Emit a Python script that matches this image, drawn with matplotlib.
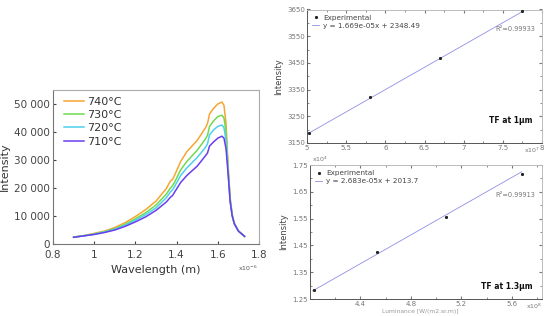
import matplotlib
matplotlib.use("Agg")
import matplotlib.pyplot as plt
from matplotlib.ticker import FixedLocator, MultipleLocator

# ---------------- data ----------------
wavelength_um = [0.90, 0.95, 1.00, 1.05, 1.10, 1.15, 1.20, 1.25, 1.30, 1.35, 1.37, 1.38, 1.39,
                 1.42, 1.45, 1.50, 1.54, 1.55, 1.56, 1.58, 1.60, 1.62, 1.63, 1.64, 1.65, 1.66,
                 1.67, 1.68, 1.70, 1.73]
i740 = [2500, 3000, 3800, 4600, 5900, 7600, 9800, 12300, 15300, 19800, 22500, 23000, 24500,
        29500, 33000, 37000, 41500, 43000, 46500, 48500, 50000, 50700, 49500, 43000, 28000,
        16500, 10500, 7500, 4700, 2800]
i730 = [2450, 2950, 3600, 4400, 5500, 7000, 9000, 11200, 13900, 17800, 20000, 20800, 22000,
        26500, 29500, 33500, 37500, 38800, 42000, 44000, 45500, 46000, 45000, 40000, 27000,
        16000, 10300, 7400, 4650, 2750]
i720 = [2430, 2920, 3500, 4250, 5250, 6700, 8500, 10500, 12900, 16500, 18600, 19300, 20500,
        24500, 27200, 30900, 34500, 35800, 39000, 40800, 42000, 42500, 41500, 37000, 26000,
        15500, 10100, 7300, 4620, 2720]
i710 = [2400, 2900, 3400, 4100, 5000, 6300, 7900, 9700, 12000, 15000, 16700, 17300, 18500,
        22000, 24500, 27800, 31500, 32500, 35000, 36500, 37800, 38500, 37800, 34000, 25000,
        15000, 10000, 7200, 4600, 2700]
series_labels = ["740°C", "730°C", "720°C", "710°C"]
series_colors = ["#F7A531", "#6EDB4E", "#4FD0EE", "#6A3DF0"]

# TF at 1 µm (x in units of 1e7)
tf1_x = [5.02, 5.80, 6.70, 7.75]
tf1_y = [3186, 3322, 3467, 3646]
tf1_fit_x = [5.0, 7.76]
tf1_fit_y = [3183, 3644]
tf1_eq = "y = 1.669e-05x + 2348.49"
tf1_r2 = "R²=0.99933"

# TF at 1.3 µm (x in units of 1e8, y in units of 1e4)
tf2_x = [4.03, 4.53, 5.08, 5.68]
tf2_y = [1.282, 1.424, 1.556, 1.715]
tf2_fit_x = [4.02, 5.68]
tf2_fit_y = [1.280, 1.725]
tf2_eq = "y = 2.683e-05x + 2013.7"
tf2_r2 = "R²=0.99913"

W, H = 552, 316
fig = plt.figure(figsize=(W / 100, H / 100), dpi=100)
plt.rcParams['font.family'] = ['DejaVu Sans']

def fx(px):
    return px / W

def fy(py):
    return 1 - py / H

# ---------------- left chart ----------------
ax = fig.add_axes([fx(53), fy(244), fx(259) - fx(53), fy(90) - fy(244)])
allseries = [i740, i730, i720, i710]
for s, lab, c in zip(allseries, series_labels, series_colors):
    ax.plot(wavelength_um, s, color=c, lw=1.1, label=lab)
ax.set_xlim(0.8, 1.8)
ax.set_ylim(0, 55000)
ax.set_xticks([0.8, 1.0, 1.2, 1.4, 1.6, 1.8])
ax.set_xticklabels(["0.8", "1", "1.2", "1.4", "1.6", "1.8"])
ax.set_yticks([0, 10000, 20000, 30000, 40000, 50000])
ax.set_yticklabels(["0", "10 000", "20 000", "30 000", "40 000", "50 000"])
ax.tick_params(direction='in', length=2.5, labelsize=7.5, colors='#444444')
ax.tick_params(axis='x', pad=4)
ax.tick_params(axis='y', pad=2)
for sp in ax.spines.values():
    sp.set_color('#aaaaaa')
    sp.set_linewidth(0.8)
ax.spines['left'].set_color('#777777')
ax.spines['bottom'].set_color('#777777')
ax.set_xlabel("Wavelength (m)", fontsize=8, color='#333333', labelpad=4)
ax.set_ylabel("Intensity", fontsize=8, color='#333333', labelpad=3)
leg = ax.legend(loc='upper left', frameon=False, fontsize=8, handlelength=1.8,
                borderaxespad=0.2, labelspacing=0.3, handletextpad=0.3,
                bbox_to_anchor=(0.02, 1.0))
for t in leg.get_texts():
    t.set_color('#333333')
fig.text(fx(238), fy(268), r"x10$^{-6}$", fontsize=4.5, color='#555555', ha='left', va='center')

# ---------------- right charts helper ----------------
def style_small(a):
    a.tick_params(direction='in', length=2, labelsize=5, colors='#777777', pad=1.5,
                  top=True, right=True, which='both')
    a.tick_params(which='minor', length=1.5)
    for sp in a.spines.values():
        sp.set_color('#bbbbbb')
        sp.set_linewidth(0.7)
    a.spines['left'].set_color('#555555')
    a.spines['bottom'].set_color('#555555')
    for lab in a.get_xticklabels() + a.get_yticklabels():
        lab.set_color('#777777')

# top right
a1 = fig.add_axes([fx(307), fy(143), fx(542) - fx(307), fy(9.5) - fy(143)])
a1.plot(tf1_fit_x, tf1_fit_y, color='#8f8fe8', lw=0.6, label=tf1_eq, zorder=2)
a1.plot(tf1_x, tf1_y, ls='none', marker='*', ms=1.8, color='#222222', label='Experimental', zorder=3)
a1.set_xlim(5, 8)
a1.set_ylim(3150, 3650)
a1.set_xticks([5, 5.5, 6, 6.5, 7, 7.5, 8])
a1.set_xticklabels(["5", "5.5", "6", "6.5", "7", "7.5", "8"])
a1.set_yticks([3150, 3250, 3350, 3450, 3550, 3650])
a1.yaxis.set_minor_locator(MultipleLocator(50))
a1.xaxis.set_minor_locator(MultipleLocator(0.25))
style_small(a1)
h, l = a1.get_legend_handles_labels()
lg1 = a1.legend(h[::-1], l[::-1], loc='upper left', frameon=False, fontsize=5.2,
                handlelength=1.0, handletextpad=0.5, borderaxespad=0.3, labelspacing=0.3)
for t in lg1.get_texts():
    t.set_color('#444444')
a1.text(0.97, 0.855, tf1_r2, transform=a1.transAxes, fontsize=4.8, color='#777777', ha='right', va='center')
a1.text(0.96, 0.165, "TF at 1µm", transform=a1.transAxes, fontsize=5.5, color='#111111',
        fontweight='bold', ha='right', va='center')
a1.set_ylabel("Intensity", fontsize=6, color='#444444', labelpad=3)
fig.text(fx(524), fy(150), r"x10$^{7}$", fontsize=4.5, color='#777777', ha='left', va='center')

# bottom right
a2 = fig.add_axes([fx(310), fy(299), fx(542) - fx(310), fy(165) - fy(299)])
a2.plot(tf2_fit_x, tf2_fit_y, color='#8f8fe8', lw=0.6, label=tf2_eq, zorder=2)
a2.plot(tf2_x, tf2_y, ls='none', marker='*', ms=1.8, color='#222222', label='Experimental', zorder=3)
a2.set_xlim(4.0, 5.84)
a2.set_ylim(1.25, 1.75)
a2.set_xticks([4.4, 4.8, 5.2, 5.6])
a2.set_xticklabels(["4.4", "4.8", "5.2", "5.6"])
a2.xaxis.set_minor_locator(FixedLocator([4.2, 4.6, 5.0, 5.4, 5.8]))
a2.set_yticks([1.25, 1.35, 1.45, 1.55, 1.65, 1.75])
a2.set_yticklabels(["1.25", "1.35", "1.45", "1.55", "1.65", "1.75"])
a2.yaxis.set_minor_locator(MultipleLocator(0.05))
style_small(a2)
h, l = a2.get_legend_handles_labels()
lg2 = a2.legend(h[::-1], l[::-1], loc='upper left', frameon=False, fontsize=5.2,
                handlelength=1.0, handletextpad=0.5, borderaxespad=0.3, labelspacing=0.3)
for t in lg2.get_texts():
    t.set_color('#444444')
a2.text(0.97, 0.775, tf2_r2, transform=a2.transAxes, fontsize=4.8, color='#777777', ha='right', va='center')
a2.text(0.96, 0.09, "TF at 1.3µm", transform=a2.transAxes, fontsize=5.5, color='#111111',
        fontweight='bold', ha='right', va='center')
a2.set_ylabel("Intensity", fontsize=6, color='#444444', labelpad=3)
fig.text(fx(312), fy(159), r"x10$^{4}$", fontsize=4.5, color='#777777', ha='left', va='center')
fig.text(fx(526), fy(306), r"x10$^{8}$", fontsize=4.5, color='#777777', ha='left', va='center')
fig.text(fx(420), fy(311.5), "Luminance [W/(m2.sr.m)]", fontsize=4.3, color='#999999',
         ha='center', va='center')

fig.savefig("out.png", dpi=100, facecolor='white')
